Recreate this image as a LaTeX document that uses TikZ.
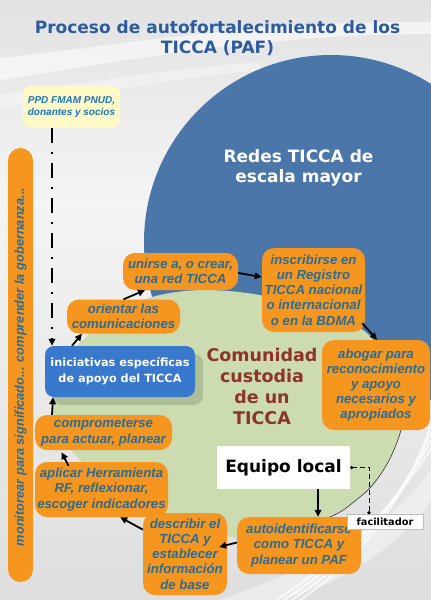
\documentclass[tikz,border=0pt]{standalone}
\usepackage{fontspec}
\setmainfont{DejaVu Sans}
\newfontfamily\verd{DejaVu Sans}
\newfontfamily\arialf{Liberation Sans}
\usetikzlibrary{arrows.meta,shadows,calc}
\definecolor{titleC}{RGB}{44,92,158}
\definecolor{blueC}{RGB}{74,118,170}
\definecolor{greenC}{RGB}{204,219,176}
\definecolor{orangeC}{RGB}{247,150,30}
\definecolor{otxt}{RGB}{42,108,150}
\definecolor{iniC}{RGB}{56,120,205}
\definecolor{shadowC}{RGB}{172,186,150}
\definecolor{ppdC}{RGB}{255,249,200}
\definecolor{ppdT}{RGB}{30,118,185}
\definecolor{comC}{RGB}{140,52,40}
\definecolor{bgTop}{RGB}{226,226,226}
\definecolor{bgMid}{RGB}{244,244,244}
\definecolor{bgBot}{RGB}{222,222,222}
\begin{document}
\begin{tikzpicture}[x=1pt,y=-1pt,
  obox/.style={fill=orangeC, rounded corners=12pt, inner sep=0pt, align=center,
    font=\arialf\bfseries\itshape\fontsize{13.2}{15.2}\selectfont, text=otxt},
  arr/.style={-{Triangle[length=7pt,width=6.5pt]}, line width=1.8pt, black},
  bigtxt/.style={font=\verd\bfseries\fontsize{17.5}{21}\selectfont, align=center, inner sep=0pt}
]
\useasboundingbox (0,0) rectangle (431,600);
% background
\shade[top color=bgTop, bottom color=bgMid] (0,0) rectangle (431,200);
\shade[top color=bgMid, bottom color=bgBot] (0,200) rectangle (431,600);
\fill[white, opacity=0.55] (0,58) .. controls (120,45) and (260,20) .. (431,22) -- (431,34) .. controls (260,34) and (120,62) .. (0,80) -- cycle;
\fill[white, opacity=0.35] (0,95) .. controls (100,80) and (180,68) .. (260,62) -- (260,70) .. controls (180,78) and (100,92) .. (0,108) -- cycle;
\foreach \d in {0,8,16,24}{
  \draw[white, line width=2pt, opacity=0.7] (431,{425+\d}) .. controls ({405-\d},{500+\d}) and ({360-\d},{560}) .. ({300-\d},600);
}
\fill[white, opacity=0.4] (220,600) .. controls (300,570) and (380,540) .. (431,470) -- (431,500) .. controls (390,560) and (320,590) .. (280,600) -- cycle;

% blue circle
\begin{scope}
\clip (0,0) rectangle (431,600);
\fill[blueC] (331,242) circle[radius=187];
\end{scope}
% green shape
\path[fill=greenC] plot[smooth cycle, tension=0.6] coordinates {(185,291) (247,293) (305,307) (363,330) (393,372) (403,415) (393,452) (375,482) (355,501) (330,517) (270,538) (205,532) (160,512) (90,470) (55,420) (58,375) (85,338) (130,305)};
\begin{scope}
\clip (300,425) rectangle (431,530);
\draw[black!80, line width=0.6pt] plot[smooth cycle, tension=0.6] coordinates {(185,291) (247,293) (305,307) (363,330) (393,372) (403,415) (393,452) (375,482) (355,501) (330,517) (270,538) (205,532) (160,512) (90,470) (55,420) (58,375) (85,338) (130,305)};
\end{scope}

% title
\node[font=\verd\bfseries\fontsize{17}{20.5}\selectfont, text=titleC, align=center, inner sep=0pt] (title) at (217.5,38) {Proceso de autofortalecimiento de los\\TICCA (PAF)};
\node[bigtxt, text=white, font=\verd\bfseries\fontsize{17}{19.5}\selectfont] (redes) at (298.5,168) {Redes TICCA de\\escala mayor};
\node[bigtxt, text=comC] (com) at (262,386) {Comunidad\\custodia\\de un\\TICCA};

% PPD
\node[fill=ppdC, rounded corners=8pt, minimum width=97pt, minimum height=42pt, inner sep=0pt, align=center, text=ppdT, font=\arialf\bfseries\itshape\fontsize{10}{12.5}\selectfont] (ppd) at (71.5,107) {PPD FMAM PNUD,\\donantes y socios};
% bar
\node[fill=orangeC, rounded corners=12.5pt, minimum width=25pt, minimum height=434pt, inner sep=0pt] (bar) at (20.5,365) {};
\node[rotate=90, text=otxt, font=\arialf\bfseries\itshape\fontsize{12.8}{15}\selectfont, inner sep=0pt] (bartxt) at (20.5,367) {monitorear para significado... comprender la gobernanza...};

% boxes
\node[obox, minimum width=113pt, minimum height=34pt] (ori) at (123.5,316.5) {orientar las\\comunicaciones};
\node[obox, minimum width=115pt, minimum height=37pt] (uni) at (180.5,271.5) {unirse a, o crear,\\una red TICCA};
\node[obox, minimum width=103pt, minimum height=84pt] (ins) at (313.5,290) {inscribirse en\\un Registro\\TICCA nacional\\o internacional\\o en la BDMA};
\node[obox, minimum width=108pt, minimum height=90pt] (abo) at (376,385) {abogar para\\reconocimiento\\y apoyo\\necesarios y\\apropiados};
\node[fill=iniC, rounded corners=9pt, minimum width=150pt, minimum height=51pt, inner sep=0pt, align=center, text=white, font=\verd\bfseries\fontsize{11.3}{16}\selectfont, drop shadow={shadow xshift=8pt, shadow yshift=-8pt, fill=shadowC, opacity=0.9}] (ini) at (120,371.5) {iniciativas específicas\\de apoyo del TICCA};
\node[obox, minimum width=137pt, minimum height=35pt] (comp) at (103.5,432.5) {comprometerse\\para actuar, planear};
\node[obox, minimum width=133pt, minimum height=55pt] (apl) at (101.5,489.5) {aplicar Herramienta\\RF, reflexionar,\\escoger indicadores};
\node[obox, minimum width=84pt, minimum height=82pt] (desc) at (185,554) {describir el\\TICCA y\\establecer\\información\\de base};
\node[obox, minimum width=124pt, minimum height=57pt] (auto) at (299,545.5) {autoidentificarse\\como TICCA y\\planear un PAF};
\node[fill=white, minimum width=133pt, minimum height=43pt, inner sep=0pt, font=\verd\bfseries\fontsize{17}{20}\selectfont] (eq) at (283.5,467.5) {Equipo local};
\node[fill=white, draw=black!25, line width=0.5pt, minimum width=76pt, minimum height=15pt, inner sep=0pt, font=\verd\bfseries\fontsize{9.8}{11}\selectfont] (fac) at (385,521.5) {facilitador};

% arrows
\draw[arr] ([xshift=34.5pt]eq.south) -- ([xshift=19pt]auto.north);
\draw[arr] ([yshift=3pt]auto.west) -- ([xshift=-8pt,yshift=7pt]desc.east);
\draw[arr] (desc.150) -- (apl.-56);
\draw[arr] ([xshift=-33pt,yshift=-4pt]apl.north) -- ([xshift=-42pt,yshift=-2pt]comp.south);
\draw[arr] ([xshift=-51.5pt]comp.north) -- ([xshift=-67pt]ini.south);
\draw[arr] ([xshift=-48pt]ini.north) -- ([xshift=-41.5pt]ori.south);
\draw[arr] (ori.north) -- ([xshift=-35.5pt]uni.south);
\draw[arr] ([yshift=-1.5pt]uni.east) -- ([yshift=13pt]ins.west);
\draw[arr] ([xshift=-3pt,yshift=9pt]ins.south east) -- ([xshift=1pt]abo.north);
\draw[-{Triangle[length=7pt,width=6.5pt]}, line width=1.8pt, dash pattern=on 15pt off 9pt on 2pt off 9pt] ([xshift=-19.5pt]ppd.south) -- ([xshift=-68pt]ini.north);
\draw[line width=0.8pt, dash pattern=on 5pt off 3pt] ([xshift=1.5pt]eq.east) -| ([xshift=-16pt,yshift=1pt]fac.north);
\fill ([xshift=1.5pt]eq.east) circle[radius=1.8];
\fill ([xshift=-16pt,yshift=1pt]fac.north) circle[radius=1.8];
\end{tikzpicture}
\end{document}
